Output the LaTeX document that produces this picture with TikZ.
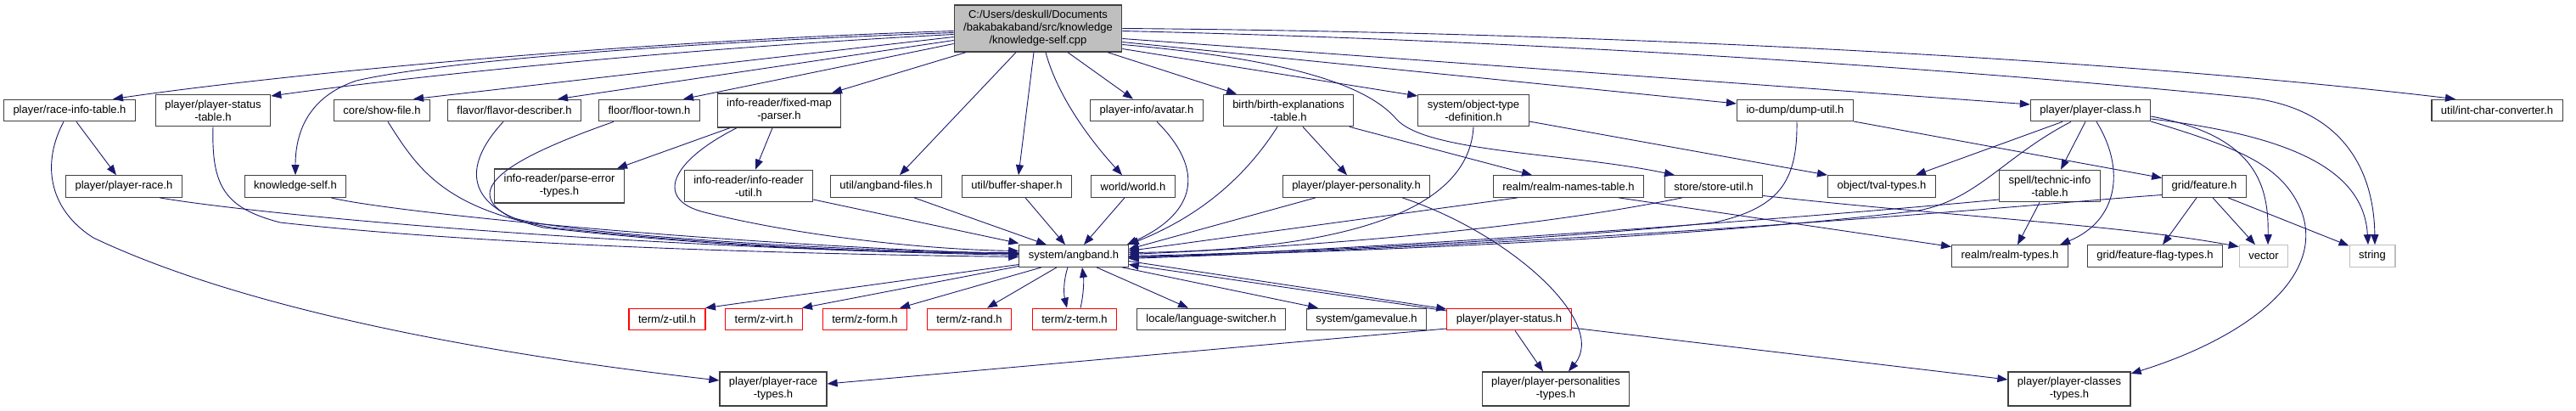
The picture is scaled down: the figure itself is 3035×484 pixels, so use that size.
\documentclass[tikz,border=0pt]{standalone}
\usepackage{fontspec}
\setmainfont{Liberation Sans}
\usepackage{tikz}
\usetikzlibrary{arrows.meta}
\definecolor{edgeBlue}{RGB}{25,25,112}
\definecolor{boxGray}{RGB}{64,64,64}
\definecolor{rootGray}{RGB}{191,191,191}
\definecolor{sysGray}{RGB}{191,191,191}

\begin{document}
\begin{tikzpicture}[x=1pt,y=-1pt,
    fileBox/.style={draw=boxGray,line width=1.2pt,fill=white,font=\fontsize{13}{15}\selectfont,align=center,inner xsep=11pt,inner ysep=6.5pt,minimum height=25.5pt},
    rootBox/.style={fileBox,fill=rootGray},
    redBox/.style={fileBox,draw=red},
    sysBox/.style={fileBox,draw=sysGray},
    inc/.style={draw=edgeBlue,line width=0.9pt,-{Triangle[length=12pt,width=9pt]}}]
        \useasboundingbox (0,0) rectangle (3035,484);
        \node[rootBox] (main) at (1223,33.5) {C:/Users/deskull/Documents\\/bakabakaband/src/knowledge\\/knowledge-self.cpp};
        \node[fileBox] (raceinfo) at (82,130) {player/race-info-table.h};
        \node[fileBox] (statustable) at (251,130) {player/player-status\\-table.h};
        \node[fileBox] (showfile) at (450,130) {core/show-file.h};
        \node[fileBox] (flavor) at (606,130) {flavor/flavor-describer.h};
        \node[fileBox] (floortown) at (765,130) {floor/floor-town.h};
        \node[fileBox] (fixedmap) at (918,130) {info-reader/fixed-map\\-parser.h};
        \node[fileBox] (avatar) at (1351,130) {player-info/avatar.h};
        \node[fileBox] (birthexp) at (1518,130) {birth/birth-explanations\\-table.h};
        \node[fileBox] (objtype) at (1736,130) {system/object-type\\-definition.h};
        \node[fileBox] (dumputil) at (2115,130) {io-dump/dump-util.h};
        \node[fileBox] (playerclass) at (2463,130) {player/player-class.h};
        \node[fileBox] (intchar) at (2942,130) {util/int-char-converter.h};
        \node[fileBox] (playerrace) at (146,219.5) {player/player-race.h};
        \node[fileBox] (knowself) at (348,219.5) {knowledge-self.h};
        \node[fileBox] (parseerr) at (659,219) {info-reader/parse-error\\-types.h};
        \node[fileBox] (irutil) at (882,219) {info-reader/info-reader\\-util.h};
        \node[fileBox] (angfiles) at (1044,219.5) {util/angband-files.h};
        \node[fileBox] (buffer) at (1198,219.5) {util/buffer-shaper.h};
        \node[fileBox] (world) at (1335,219.5) {world/world.h};
        \node[fileBox] (personality) at (1598,219.5) {player/player-personality.h};
        \node[fileBox] (realmnames) at (1848,219.5) {realm/realm-names-table.h};
        \node[fileBox] (storeutil) at (2019,219.5) {store/store-util.h};
        \node[fileBox] (tval) at (2217,219.5) {object/tval-types.h};
        \node[fileBox] (technic) at (2415,219) {spell/technic-info\\-table.h};
        \node[fileBox] (feature) at (2597,219.5) {grid/feature.h};
        \node[fileBox] (angband) at (1265,301.5) {system/angband.h};
        \node[fileBox] (realmtypes) at (2368,301.5) {realm/realm-types.h};
        \node[fileBox] (flagtypes) at (2539,301.5) {grid/feature-flag-types.h};
        \node[sysBox] (vector) at (2667,301.5) {vector};
        \node[sysBox] (string) at (2795,301.5) {string};
        \node[redBox] (zutil) at (786,376) {term/z-util.h};
        \node[redBox] (zvirt) at (900,376) {term/z-virt.h};
        \node[redBox] (zform) at (1019,376) {term/z-form.h};
        \node[redBox] (zrand) at (1142,376) {term/z-rand.h};
        \node[redBox] (zterm) at (1266,376) {term/z-term.h};
        \node[fileBox] (langsw) at (1427,376) {locale/language-switcher.h};
        \node[fileBox] (gamevalue) at (1610,376) {system/gamevalue.h};
        \node[redBox] (pstatus) at (1778,376) {player/player-status.h};
        \node[fileBox] (racetypes) at (911,458) {player/player-race\\-types.h};
        \node[fileBox] (perstypes) at (1833,458) {player/player-personalities\\-types.h};
        \node[fileBox] (classtypes) at (2438,458) {player/player-classes\\-types.h};

        \draw[inc] ([yshift=-3pt]main.west) .. controls (700,50) and (300,92) .. ([xshift=51pt]raceinfo.north);
        \draw[inc] ([yshift=-5pt]main.west) .. controls (800,50) and (520,72) .. (420,95) .. controls (360,115) and (348,160) .. (knowself.north);
        \draw[inc] ([yshift=-7pt]main.west) .. controls (750,60) and (450,95) .. ([yshift=17pt]statustable.east);
        \draw[inc] ([yshift=-10pt]main.west) -- ([xshift=37pt]showfile.north);
        \draw[inc] ([yshift=-14pt]main.west) -- ([xshift=51pt]flavor.north);
        \draw[inc] ([yshift=-18pt]main.west) -- ([xshift=40pt]floortown.north);
        \draw[inc] ([xshift=-85pt]main.south) -- ([xshift=62pt]fixedmap.north);
        \draw[inc] ([xshift=-26pt]main.south) -- ([xshift=16pt]angfiles.north);
        \draw[inc] ([xshift=-5pt]main.south) -- ([xshift=2pt]buffer.north);
        \draw[inc] ([xshift=9pt]main.south) .. controls (1245,110) and (1280,160) .. ([xshift=-13pt]world.north);
        \draw[inc] ([xshift=35pt]main.south) -- ([xshift=-16pt]avatar.north);
        \draw[inc] ([xshift=82pt]main.south) -- ([xshift=-61pt]birthexp.north);
        \draw[inc] (main.east) .. controls (1900,38) and (2500,70) .. ([xshift=-49pt]intchar.north);
        \draw[inc] ([yshift=-3pt]main.east) .. controls (1900,50) and (2400,90) .. (2650,115) .. controls (2760,128) and (2797,200) .. ([xshift=3pt]string.north);
        \draw[inc] ([yshift=-12pt]main.east) -- ([yshift=7pt]playerclass.west);
        \draw[inc] ([yshift=-16pt]main.east) -- ([yshift=8pt]dumputil.west);
        \draw[inc] ([yshift=-19pt]main.east) .. controls (1520,70) and (1610,100) .. (1645,140) .. controls (1680,180) and (1850,180) .. ([xshift=-46pt]storeutil.north);
        \draw[inc] ([yshift=-24pt]main.east) -- ([yshift=17pt]objtype.west);

        \draw[inc] ([xshift=8pt]raceinfo.south) -- ([xshift=-9pt]playerrace.north);
        \draw[inc] ([xshift=-7pt]raceinfo.south) .. controls (50,190) and (55,245) .. (110,280) .. controls (300,370) and (600,420) .. ([yshift=10pt]racetypes.west);
        \draw[inc] (statustable.south) .. controls (249,220) and (265,245) .. (330,262) .. controls (600,292) and (1000,300) .. ([yshift=-1pt]angband.west);
        \draw[inc] ([xshift=42pt]playerrace.south) .. controls (300,252) and (700,290) .. ([yshift=1pt]angband.west);
        \draw[inc] ([xshift=42pt]knowself.south) .. controls (450,248) and (800,285) .. ([yshift=2pt]angband.west);
        \draw[inc] ([xshift=7pt]showfile.south) .. controls (490,195) and (520,245) .. (650,268) .. controls (850,290) and (1050,298) .. ([yshift=3pt]angband.west);
        \draw[inc] ([xshift=-13pt]flavor.south) .. controls (545,195) and (545,245) .. (640,268) .. controls (850,292) and (1050,298) .. ([yshift=3pt]angband.west);
        \draw[inc] ([xshift=-42pt]floortown.south) .. controls (590,190) and (545,225) .. (600,255) .. controls (650,275) and (1000,297) .. ([yshift=4pt]angband.west);
        \draw[inc] ([xshift=-58pt]fixedmap.south) -- ([xshift=68pt]parseerr.north);
        \draw[inc] ([xshift=-8pt]fixedmap.south) -- ([xshift=8pt]irutil.north);
        \draw[inc] ([xshift=-50pt]fixedmap.south) .. controls (790,190) and (770,235) .. (830,250) .. controls (950,280) and (1100,294) .. ([yshift=6pt]angband.west);
        \draw[inc] ([yshift=-16pt]irutil.east) -- ([yshift=15pt]angband.west);
        \draw[inc] ([xshift=33pt]angfiles.south) -- ([xshift=-32pt]angband.north);
        \draw[inc] ([xshift=10pt]buffer.south) -- ([xshift=-10pt]angband.north);
        \draw[inc] ([xshift=-10pt]world.south) -- ([xshift=12pt]angband.north);
        \draw[inc] ([xshift=12pt]avatar.south) .. controls (1420,200) and (1410,250) .. ([xshift=-2pt]angband.north east);
        \draw[inc] ([xshift=-13pt]birthexp.south) .. controls (1460,220) and (1400,260) .. (angband.north east);
        \draw[inc] ([xshift=17pt]birthexp.south) -- ([xshift=-11pt]personality.north);
        \draw[inc] ([xshift=72pt]birthexp.south) -- ([xshift=-43pt]realmnames.north);
        \draw[inc] (objtype.south) .. controls (1730,260) and (1550,295) .. ([yshift=4pt]angband.east);
        \draw[inc] ([yshift=-13pt]objtype.east) -- ([xshift=-64pt]tval.north);
        \draw[inc] ([xshift=-48pt]personality.south) -- ([yshift=8pt]angband.east);
        \draw[inc] ([xshift=54pt]personality.south) .. controls (1780,275) and (1895,380) .. ([xshift=15pt]perstypes.north);
        \draw[inc] ([xshift=-60pt]realmnames.south) -- ([yshift=6pt]angband.east);
        \draw[inc] ([xshift=59pt]realmnames.south) -- ([yshift=11pt]realmtypes.west);
        \draw[inc] ([xshift=-37pt]storeutil.south) .. controls (1800,270) and (1550,290) .. ([yshift=2pt]angband.east);
        \draw[inc] ([yshift=-11pt]storeutil.east) .. controls (2300,255) and (2500,265) .. ([yshift=11pt]vector.west);
        \draw[inc] ([xshift=2pt]dumputil.south) .. controls (2118,215) and (2095,245) .. (2020,262) .. controls (1800,285) and (1500,298) .. (angband.east);
        \draw[inc] ([yshift=-13pt]dumputil.east) -- ([yshift=10pt]feature.west);
        \draw[inc] ([xshift=-33pt]playerclass.south) -- ([xshift=40pt]tval.north);
        \draw[inc] ([xshift=-23pt]playerclass.south) .. controls (2360,185) and (2330,235) .. (2260,248) .. controls (2000,280) and (1600,297) .. ([yshift=-1pt]angband.east);
        \draw[inc] ([xshift=-6pt]playerclass.south) -- ([xshift=13pt]technic.north);
        \draw[inc] ([xshift=7pt]playerclass.south) .. controls (2505,200) and (2495,260) .. ([xshift=59pt]realmtypes.north);
        \draw[inc] ([yshift=-7pt]playerclass.east) .. controls (2660,160) and (2673,220) .. ([xshift=5pt]vector.north);
        \draw[inc] ([yshift=-10pt]playerclass.east) .. controls (2700,160) and (2785,200) .. ([xshift=-5pt]string.north);
        \draw[inc] ([yshift=-13pt]playerclass.east) .. controls (2640,175) and (2690,195) .. (2712,250) .. controls (2740,330) and (2640,400) .. ([yshift=18pt]classtypes.east);
        \draw[inc] ([yshift=-16pt]technic.west) .. controls (2200,250) and (1700,290) .. ([yshift=-2pt]angband.east);
        \draw[inc] ([xshift=-12pt]technic.south) -- ([xshift=9pt]realmtypes.north);
        \draw[inc] ([yshift=-10pt]feature.west) .. controls (2400,240) and (2000,280) .. ([yshift=-3pt]angband.east);
        \draw[inc] ([xshift=-9pt]feature.south) -- ([xshift=9pt]flagtypes.north);
        \draw[inc] ([xshift=10pt]feature.south) -- ([xshift=-10pt]vector.north);
        \draw[inc] ([xshift=28pt]feature.south) -- ([yshift=12pt]string.west);

        \draw[inc] ([yshift=-10pt]angband.west) -- ([xshift=45pt]zutil.north);
        \draw[inc] ([yshift=-12pt]angband.west) -- ([xshift=45pt]zvirt.north);
        \draw[inc] ([xshift=-38pt]angband.south) -- ([xshift=41pt]zform.north);
        \draw[inc] ([xshift=-20pt]angband.south) -- ([xshift=21pt]zrand.north);
        \draw[inc] ([xshift=-7pt]angband.south) .. controls (1253,330) and (1253,345) .. ([xshift=-9pt]zterm.north);
        \draw[inc] ([xshift=7pt]zterm.north) .. controls (1277,345) and (1277,330) .. ([xshift=10pt]angband.south);
        \draw[inc] ([xshift=27pt]angband.south) -- ([xshift=-27pt]langsw.north);
        \draw[inc] ([xshift=57pt]angband.south) -- ([xshift=-57pt]gamevalue.north);
        \draw[inc] ([yshift=-6pt]angband.east) -- ([yshift=12pt]pstatus.west);
        \draw[inc] ([yshift=10pt]pstatus.west) -- ([yshift=-10pt]angband.east);
        \draw[inc] ([yshift=-11pt]pstatus.west) -- ([yshift=6pt]racetypes.east);
        \draw[inc] ([xshift=7pt]pstatus.south) -- ([xshift=-15pt]perstypes.north);
        \draw[inc] ([yshift=-10pt]pstatus.east) -- ([yshift=11pt]classtypes.west);
      \end{tikzpicture}
\end{document}
